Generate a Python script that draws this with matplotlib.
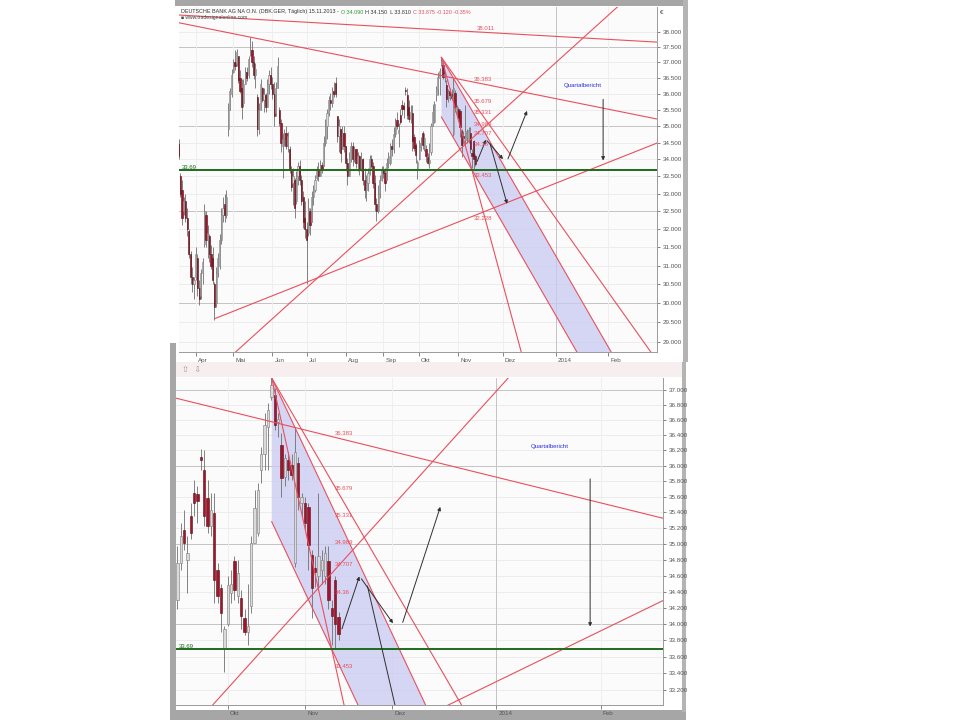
import numpy as np
import pandas as pd
import matplotlib
matplotlib.use("Agg")
import matplotlib.pyplot as plt
from matplotlib.patches import Rectangle, Polygon
from matplotlib.transforms import ScaledTranslation, blended_transform_factory

plt.rcParams["font.family"] = ["Liberation Sans", "DejaVu Sans"]

# daily candles DBK, 18.03.2013 - 15.11.2013
opens = [34.45, 33.50, 33.10, 32.50, 32.80, 32.30, 31.95, 31.30, 30.70, 30.50,
         30.70, 31.20, 30.40, 30.20, 30.80, 31.60, 32.40, 31.70, 31.80, 31.30,
         31.20, 30.50, 30.00, 30.80, 31.00, 31.70, 32.40, 32.70, 32.40, 34.90,
         35.50, 36.00, 36.70, 37.00, 36.95, 37.20, 36.50, 36.20, 35.70, 36.30,
         36.70, 36.60, 37.25, 37.40, 37.00, 36.60, 35.90, 34.90, 35.50, 36.20,
         35.80, 35.95, 35.60, 36.30, 36.60, 36.30, 36.00, 35.40, 36.20, 35.50,
         35.10, 34.40, 34.60, 34.80, 34.40, 34.30, 33.70, 33.30, 33.40, 32.80,
         33.50, 33.80, 33.40, 32.90, 32.30, 32.00, 31.90, 32.50, 32.20, 32.90,
         33.10, 33.45, 33.70, 33.50, 33.85, 33.80, 34.50, 35.00, 35.40, 35.80,
         35.70, 36.10, 36.35, 35.30, 34.70, 34.90, 34.30, 34.80, 34.40, 33.90,
         33.50, 34.00, 34.40, 34.00, 34.30, 33.90, 34.10, 33.70, 34.00, 33.40,
         33.10, 33.30, 33.60, 34.00, 33.80, 33.30, 32.70, 32.50, 33.00, 33.40,
         33.70, 33.60, 33.40, 33.90, 33.90, 34.40, 34.30, 34.76, 35.18, 34.80,
         35.35, 35.65, 35.63, 36.12, 35.95, 35.58, 35.22, 35.39, 34.67, 34.44,
         33.70, 34.00, 34.38, 34.78, 34.34, 34.32, 34.08, 33.90, 34.22, 35.01,
         35.14, 35.95, 36.16, 36.51, 36.91, 36.93, 36.57, 36.27, 35.86, 36.08,
         36.01, 34.76, 36.03, 35.52, 35.52, 35.47, 34.86, 34.69, 34.59, 34.67,
         34.59, 34.78, 34.20, 34.55, 34.09]
highs = [34.60, 33.60, 33.40, 32.90, 33.00, 32.60, 32.00, 31.40, 30.95, 30.70,
         31.50, 31.30, 30.60, 30.90, 31.20, 32.70, 32.50, 32.10, 31.85, 31.55,
         31.50, 30.55, 30.95, 31.35, 31.85, 32.60, 32.90, 33.00, 33.10, 35.70,
         36.20, 36.80, 37.10, 37.40, 37.45, 37.20, 36.77, 36.46, 36.46, 36.86,
         36.86, 37.20, 37.84, 37.70, 37.20, 36.98, 36.00, 35.70, 36.46, 36.23,
         36.20, 36.04, 36.46, 36.77, 36.86, 36.54, 36.36, 36.36, 37.18, 35.60,
         35.22, 34.80, 34.92, 35.01, 34.83, 34.40, 33.82, 33.74, 33.45, 33.65,
         33.94, 33.97, 33.53, 33.07, 32.79, 32.20, 32.87, 32.60, 33.07, 33.24,
         33.53, 33.82, 33.94, 33.97, 33.94, 34.71, 35.22, 35.52, 35.92, 36.04,
         36.23, 36.36, 36.54, 35.31, 35.22, 34.90, 35.01, 35.00, 34.41, 34.03,
         34.23, 34.53, 34.53, 34.41, 34.32, 34.23, 34.13, 34.23, 34.03, 33.74,
         33.53, 33.74, 34.13, 34.13, 33.94, 33.53, 32.87, 33.24, 33.53, 33.82,
         33.82, 33.74, 34.03, 34.23, 34.50, 34.60, 34.97, 35.26, 35.43, 35.10,
         35.52, 35.82, 35.74, 36.22, 36.20, 35.82, 35.65, 35.65, 34.76, 34.50,
         33.98, 34.59, 34.67, 34.84, 34.80, 34.42, 34.18, 34.50, 35.10, 35.69,
         35.78, 36.24, 36.69, 36.82, 37.16, 37.02, 36.69, 36.43, 36.16, 36.18,
         36.16, 36.49, 36.12, 35.65, 35.60, 35.52, 34.92, 34.84, 35.65, 34.92,
         34.97, 34.97, 34.30, 34.59, 34.15]
lows = [34.00, 32.90, 32.10, 32.40, 32.20, 31.80, 31.20, 30.50, 30.30, 30.10,
        30.60, 30.20, 29.95, 30.10, 30.50, 31.50, 31.50, 31.20, 31.10, 30.90,
        30.50, 29.57, 29.90, 30.70, 30.90, 31.60, 32.20, 32.20, 32.30, 34.70,
        35.50, 35.90, 36.65, 36.77, 36.90, 36.35, 36.04, 35.22, 35.60, 36.30,
        36.40, 36.50, 37.20, 36.86, 36.46, 36.20, 34.70, 34.75, 35.50, 35.74,
        35.43, 35.45, 35.60, 36.00, 36.14, 35.83, 35.00, 35.30, 36.20, 35.00,
        34.23, 33.45, 34.41, 34.32, 34.23, 33.60, 33.07, 32.67, 32.31, 32.70,
        33.24, 33.24, 32.67, 32.04, 31.76, 30.50, 31.80, 31.84, 32.20, 32.67,
        33.05, 33.40, 33.36, 33.50, 33.60, 33.80, 34.40, 34.60, 35.30, 35.50,
        35.60, 35.90, 35.90, 34.53, 34.23, 33.94, 34.30, 34.23, 33.65, 33.24,
        33.50, 33.94, 33.82, 33.94, 33.74, 33.65, 33.53, 33.65, 33.24, 32.87,
        32.79, 33.07, 33.53, 33.74, 33.16, 32.51, 32.23, 32.45, 32.87, 33.36,
        33.45, 33.07, 33.40, 33.74, 33.85, 34.10, 34.18, 34.67, 34.92, 34.38,
        35.06, 35.35, 35.26, 35.95, 35.22, 35.14, 35.10, 34.26, 34.26, 33.90,
        33.42, 33.98, 34.26, 34.30, 34.26, 33.94, 33.86, 33.74, 34.14, 35.01,
        35.10, 35.78, 35.95, 35.95, 36.87, 36.47, 36.38, 35.60, 35.74, 35.82,
        35.82, 34.71, 35.43, 35.35, 35.18, 34.67, 34.08, 34.46, 34.42, 34.50,
        34.50, 34.18, 33.74, 33.70, 33.81]
closes = [34.10, 33.00, 32.30, 32.80, 32.30, 32.00, 31.30, 30.70, 30.50, 30.60,
          31.30, 30.40, 30.10, 30.80, 31.10, 32.50, 31.70, 31.90, 31.30, 31.00,
          30.60, 29.90, 30.80, 31.20, 31.70, 32.40, 32.60, 32.40, 32.90, 35.50,
          36.10, 36.60, 37.00, 36.90, 37.35, 36.45, 36.10, 35.60, 36.30, 36.70,
          36.50, 37.10, 37.40, 37.00, 36.60, 36.80, 34.90, 35.50, 36.30, 35.80,
          36.00, 35.60, 36.30, 36.60, 36.30, 36.00, 35.30, 36.20, 36.90, 35.10,
          34.50, 34.60, 34.80, 34.40, 34.70, 33.70, 33.20, 33.50, 32.60, 33.50,
          33.80, 33.40, 32.80, 32.20, 32.00, 31.70, 32.60, 32.10, 32.90, 33.10,
          33.40, 33.70, 33.50, 33.85, 33.70, 34.50, 35.00, 35.40, 35.80, 35.70,
          36.10, 36.00, 36.00, 34.70, 35.00, 34.20, 34.80, 34.40, 33.90, 33.50,
          34.00, 34.40, 34.00, 34.30, 33.90, 34.10, 33.70, 34.00, 33.40, 33.10,
          33.30, 33.60, 34.00, 33.80, 33.30, 32.70, 32.50, 33.00, 33.40, 33.70,
          33.60, 33.30, 33.90, 34.10, 34.40, 34.30, 34.76, 35.10, 35.01, 34.88,
          35.14, 35.52, 35.54, 36.08, 35.35, 35.22, 35.43, 34.55, 34.34, 34.14,
          33.94, 34.48, 34.50, 34.42, 34.63, 34.10, 33.90, 33.98, 35.01, 35.45,
          35.69, 36.16, 36.54, 36.73, 37.06, 36.54, 36.62, 35.84, 36.10, 35.95,
          35.88, 36.18, 35.60, 35.60, 35.26, 34.99, 34.44, 34.65, 34.84, 34.80,
          34.88, 34.30, 34.10, 34.00, 33.875]

month_names = ["Apr", "Mai", "Jun", "Jul", "Aug", "Sep", "Okt", "Nov", "Dez", "2014", "Feb"]
month_starts = ["2013-04-01", "2013-05-01", "2013-06-01", "2013-07-01", "2013-08-01",
                "2013-09-01", "2013-10-01", "2013-11-01", "2013-12-01", "2014-01-01",
                "2014-02-01"]

# trend lines (bar index, price) -> (bar index, price)
full_lines = [(0.2, 38.30, 280.5, 35.22),
              (0.2, 38.56, 280.5, 37.66),
              (40.6, 29.03, 229.5, 37.41)]
rays = [(21.3, 29.60, 280.5, 34.49),
        (154.1, 37.16, 278.2, 28.67),
        (154.1, 37.16, 254.7, 28.67),
        (154.1, 37.16, 201.4, 28.67),
        (154.1, 35.28, 234.6, 28.67)]
channel = [(154.1, 37.16), (254.7, 28.67), (234.6, 28.67), (154.1, 35.28)]
arrows = [(193.1, 34.02, 204.3, 35.47),
          (180.8, 34.56, 190.2, 34.01),
          (182.6, 34.47, 192.6, 32.71),
          (175.0, 33.94, 180.2, 34.59),
          (248.9, 35.83, 248.9, 33.97)]
level_values = [38.011, 36.383, 35.679, 35.331, 34.989, 34.707, 34.36, 33.453, 32.228]
level_x = [175, 173, 173, 173, 173, 173, 173, 173, 173]
green_level = 33.69

hist_days = pd.bdate_range("2013-03-18", "2013-11-15")
axis_days = hist_days.append(pd.date_range("2013-11-16", "2014-03-15"))
month_pos = [int(axis_days.searchsorted(pd.Timestamp(d))) for d in month_starts]
bars = np.arange(len(closes))

RED = "#e8505e"
fig = plt.figure(figsize=(9.6, 7.2), dpi=100)


def px(x0, y0, x1, y1):
    return [x0 / 960, 1 - y1 / 720, (x1 - x0) / 960, (y1 - y0) / 720]


def extend(x1, p1, x2, p2, x):
    return p1 * (p2 / p1) ** ((x - x1) / (x2 - x1))


def draw_panel(ax, xlim, ylim, yticks, major_step):
    ax.set_facecolor("#fbfbfb")
    ax.set_yscale("log")
    ax.set_xlim(*xlim)
    ax.set_ylim(*ylim)
    for v in yticks:
        major = abs(v / major_step - round(v / major_step)) < 1e-6
        ax.axhline(v, color="#c4c4c4" if major else "#ececec", lw=0.7, zorder=0)
    for pos, name in zip(month_pos, month_names):
        ax.axvline(pos, color="#c4c4c4" if name == "2014" else "#efefef", lw=0.7, zorder=0)

    # candles
    up = [c >= o for o, c in zip(opens, closes)]
    ax.vlines(bars, lows, highs, color="#6e6e6e", lw=0.6, zorder=2)
    bottoms = [min(o, c) for o, c in zip(opens, closes)]
    heights = [max(abs(c - o), 0.02) for o, c in zip(opens, closes)]
    ax.bar(bars, heights, bottom=bottoms, width=0.7,
           color=["#dadada" if u else "#a3142a" for u in up],
           edgecolor=["#7a7a7a" if u else "#5a0a14" for u in up], lw=0.4, zorder=3)

    # channel and lines
    ax.add_patch(Polygon(channel, closed=True, facecolor="#c9c9f2", alpha=0.75,
                         edgecolor="none", zorder=1))
    for x1, p1, x2, p2 in full_lines:
        ax.plot([xlim[0] - 5, xlim[1] + 5],
                [extend(x1, p1, x2, p2, xlim[0] - 5), extend(x1, p1, x2, p2, xlim[1] + 5)],
                color=RED, lw=0.8, zorder=4)
    for x1, p1, x2, p2 in rays:
        ax.plot([x1, xlim[1] + 5], [p1, extend(x1, p1, x2, p2, xlim[1] + 5)],
                color=RED, lw=0.8, zorder=4)
    ax.axhline(green_level, color="#1d6b1d", lw=1.4, zorder=5)
    for x1, p1, x2, p2 in arrows:
        ann = ax.annotate("", xy=(x2, p2), xytext=(x1, p1), annotation_clip=False,
                          arrowprops=dict(arrowstyle="-|>", color="#303030", lw=0.7,
                                          mutation_scale=5, shrinkA=0, shrinkB=0), zorder=6)
        ann.arrow_patch.set_clip_path(ax.patch)
    for v, x in zip(level_values, level_x):
        if ylim[0] < v < ylim[1]:
            ax.text(x, v, f"{v:g}" if v == 34.36 else f"{v:.3f}", color=RED,
                    fontsize=4.3, ha="left", va="bottom", zorder=6)
    tr = blended_transform_factory(ax.transAxes, ax.transData)
    ax.text(0.006, green_level, "33.69", transform=tr, color="#1d6b1d",
            fontsize=4.3, ha="left", va="bottom")
    ax.text(237, 36.25, "Quartalbericht", color="#2a2ae0", fontsize=4.3,
            ha="center", va="center", zorder=6)

    # axes styling
    ax.yaxis.tick_right()
    ax.set_yticks(yticks)
    ax.set_yticklabels([f"{v:.3f}" for v in yticks])
    ax.minorticks_off()
    ax.tick_params(axis="y", labelsize=4.5, length=2, width=0.5, colors="#555555", pad=2)
    shown = [(p, n) for p, n in zip(month_pos, month_names) if xlim[0] < p < xlim[1]]
    ax.set_xticks([p for p, _ in shown])
    ax.set_xticklabels([n for _, n in shown])
    ax.tick_params(axis="x", labelsize=4.5, length=3, width=0.5, colors="#555555", pad=1)
    for lab in ax.get_xticklabels():
        lab.set_horizontalalignment("left")
        lab.set_transform(lab.get_transform() + ScaledTranslation(1.5 / 72, 0, fig.dpi_scale_trans))
    for side in ("left", "top"):
        ax.spines[side].set_visible(False)
    for side in ("right", "bottom"):
        ax.spines[side].set_color("#9a9a9a")
        ax.spines[side].set_linewidth(0.7)


# frames around the two screenshots
for box, col in [((175, 0, 688, 6), "#a6a6a6"), ((683, 0, 688, 362), "#b4b4b4"),
                 ((170, 343, 176, 720), "#a6a6a6"), ((170, 710, 686, 720), "#a6a6a6"),
                 ((682, 362, 686, 712), "#b4b4b4"), ((176, 362, 682, 377), "#f7eef0")]:
    fig.add_artist(Rectangle((box[0] / 960, 1 - box[3] / 720), (box[2] - box[0]) / 960,
                             (box[3] - box[1]) / 720, transform=fig.transFigure,
                             facecolor=col, edgecolor="none", zorder=0))

top_ticks = [round(29.0 + 0.5 * i, 1) for i in range(19)]
bottom_ticks = [round(33.2 + 0.2 * i, 1) for i in range(20)]

ax1 = fig.add_axes(px(179, 7, 657, 352))
draw_panel(ax1, (0.2, 280.5), (28.75, 38.83), top_ticks, 2.5)
ax2 = fig.add_axes(px(176, 378, 663, 705))
draw_panel(ax2, (125.6, 270.6), (33.02, 37.16), bottom_ticks, 1.0)

# header of the upper screenshot, pieces placed one after another
renderer = fig.canvas.get_renderer()
header = [("DEUTSCHE BANK AG NA O.N. (DBK.GER, Täglich) 15.11.2013 -", "#333333"),
          ("O 34.090", "#2e9a2e"), ("H 34.150  L 33.810", "#333333"),
          ("C 33.875 -0.120 -0.35%", "#e8505e")]
hx = 181
for txt, col in header:
    t = fig.text(hx / 960, 1 - 12 / 720, txt, fontsize=3.9, color=col, va="center")
    hx = t.get_window_extent(renderer).x1 + 2
fig.text(181 / 960, 1 - 18 / 720, "\u25a0 www.tradesignalonline.com", fontsize=3.6,
         color="#444444", va="center")
fig.text(660 / 960, 1 - 12 / 720, "\u20ac", fontsize=4.5, color="#333333", va="center")
fig.text(182 / 960, 1 - 369 / 720, "\u21e7  \u21e9", fontsize=6, color="#9a9a9a",
         va="center", family="DejaVu Sans")

fig.savefig("out.png", dpi=100, facecolor="white")
